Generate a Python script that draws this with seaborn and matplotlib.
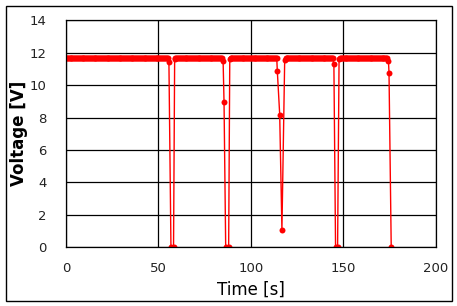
import numpy as np
import pandas as pd
import matplotlib
matplotlib.use("Agg")
import matplotlib.pyplot as plt
import seaborn as sns
from matplotlib.patches import Rectangle

# steady voltage level between the drops
plateau_level = 11.7
plateau_start = [0, 59.2, 89.0, 118.8, 148.2]
plateau_end = [55.2, 84.6, 114.0, 144.4, 174.0]

# points read around each drop
drop_time = [55.7, 56.8, 58.2, 58.8,
             85.0, 85.5, 86.4, 88.0, 88.6,
             114.3, 115.6, 116.8, 118.3,
             144.9, 145.8, 146.9, 147.7,
             174.4, 174.7, 175.9]
drop_volt = [11.46, 0, 0, 11.6,
             11.5, 8.96, 0, 0, 11.6,
             10.9, 8.19, 1.08, 11.56,
             11.3, 0, 0, 11.6,
             11.5, 10.78, 0]

x_ticks = [0, 50, 100, 150, 200]
y_ticks = [0, 2, 4, 6, 8, 10, 12, 14]


def main():
    times = list(drop_time)
    volts = list(drop_volt)
    for s, e in zip(plateau_start, plateau_end):
        seg = np.arange(s, e + 0.01, 0.5)
        times += list(seg)
        volts += [plateau_level] * len(seg)
    df = pd.DataFrame({"Time": times, "Voltage": volts}).sort_values("Time")

    sns.set_style("white")
    plt.rcParams['font.family'] = ['DejaVu Sans']

    fig = plt.figure(figsize=(4.57, 3.06), dpi=100)
    ax = fig.add_axes([0.1442, 0.1922, 0.8094, 0.7411])

    sns.lineplot(x="Time", y="Voltage", data=df, ax=ax, color="#ff0000",
                 estimator=None, sort=True, linewidth=1.0,
                 marker="o", markersize=4.3, markeredgewidth=0)

    ax.set_xlim(0, 200)
    ax.set_ylim(0, 14)
    ax.set_xticks(x_ticks)
    ax.set_yticks(y_ticks)
    ax.tick_params(axis="both", length=0, labelsize=9.5, labelcolor="#222222")
    ax.tick_params(axis="x", pad=11)
    ax.tick_params(axis="y", pad=14)
    ax.grid(True, color="black", linewidth=0.9)
    ax.set_axisbelow(True)
    for sp in ax.spines.values():
        sp.set_color("black")
        sp.set_linewidth(0.9)

    ax.set_xlabel("Time [s]", fontsize=12, fontweight="medium", color="black")
    ax.set_ylabel("Voltage [V]", fontsize=12, fontweight="bold", color="black")
    ax.xaxis.set_label_coords(0.5, -0.148)
    ax.yaxis.set_label_coords(-0.102, 0.5)

    fig.patches.append(Rectangle((5.5 / 457, 1 - 301 / 306), 446.5 / 457, 295.5 / 306,
                                 transform=fig.transFigure, fill=False,
                                 edgecolor="black", linewidth=1.0))

    fig.savefig("out.png", dpi=100)


main()
